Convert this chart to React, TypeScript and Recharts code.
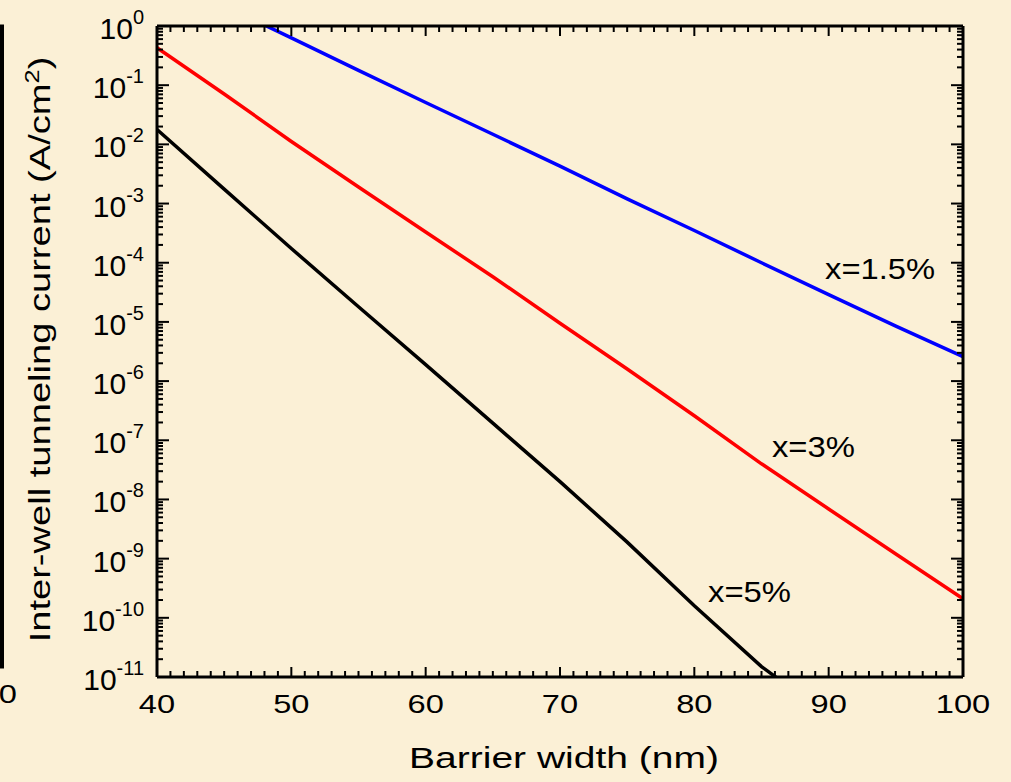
import React from "react";
import { LineChart, Line, XAxis, YAxis, ReferenceDot } from "recharts";

// barrier width (nm)
const widths = [40, 45, 50, 55, 60, 65, 70, 75, 80, 85, 90, 95, 100];
// inter-well tunneling current (A/cm^2)
const currentX15 = [7.4, 2.2, 0.63, 0.178, 0.051, 0.0148, 0.0043, 0.0012, 3.5e-4, 1.0e-4, 2.9e-5, 8.5e-6, 2.6e-6];
const currentX3 = [0.43, 0.071, 0.0112, 1.9e-3, 3.3e-4, 5.8e-5, 9.5e-6, 1.6e-6, 2.6e-7, 4.0e-8, 6.9e-9, 1.2e-9, 2.1e-10];
const currentX5 = [0.0178, 1.75e-3, 1.74e-4, 1.8e-5, 1.9e-6, 1.95e-7, 2.0e-8, 1.9e-9, 1.6e-10, 1.5e-11, 2.2e-12, null, null];

const xMajorTicks = [40, 50, 60, 70, 80, 90, 100];
const decades = [-11, -10, -9, -8, -7, -6, -5, -4, -3, -2, -1];

const xTicks: number[] = [];
for (let v = 40; v <= 100; v++) xTicks.push(v);
const yTicks: number[] = [];
decades.forEach((n) => {
  for (let k = 1; k <= 9; k++) yTicks.push(parseFloat(`${k}e${n}`));
});
yTicks.push(1);

const data = widths.map((w, i) => ({
  w,
  x15: currentX15[i],
  x3: currentX3[i],
  x5: currentX5[i],
}));

const FONT = '"Liberation Sans", Arial, sans-serif';
const BG = "#FBF0D6";

const isDecade = (v: number) => {
  const l = Math.log10(v);
  return Math.abs(l - Math.round(l)) < 1e-6;
};

const BottomTick = ({ x, y, payload }: any) => {
  const major = xMajorTicks.includes(payload.value);
  return (
    <g>
      <line x1={x} x2={x} y1={y} y2={y - (major ? 10 : 6)} stroke="#000" strokeWidth={2} />
      {major && (
        <text
          transform={`translate(${x},${y + 36}) scale(1.28,1)`}
          textAnchor="middle"
          fontSize={25.5}
          fontFamily={FONT}
          fill="#000"
        >
          {payload.value}
        </text>
      )}
    </g>
  );
};

const TopTick = ({ x, y, payload }: any) => {
  const major = xMajorTicks.includes(payload.value);
  return <line x1={x} x2={x} y1={y} y2={y + (major ? 10 : 6)} stroke="#000" strokeWidth={2} />;
};

const LeftTick = ({ x, y, payload }: any) => {
  const major = isDecade(payload.value);
  const exp = Math.round(Math.log10(payload.value));
  return (
    <g>
      <line x1={x} x2={x + (major ? 12 : 6)} y1={y} y2={y} stroke="#000" strokeWidth={2} />
      {major && (
        <text x={x - 13} y={y + 13} textAnchor="end" fontSize={30} fontFamily={FONT} fill="#000">
          <tspan>10</tspan>
          <tspan dy={-15} fontSize={20}>
            {exp}
          </tspan>
        </text>
      )}
    </g>
  );
};

const RightTick = ({ x, y, payload }: any) => {
  const major = isDecade(payload.value);
  return <line x1={x} x2={x - (major ? 12 : 6)} y1={y} y2={y} stroke="#000" strokeWidth={2} />;
};

const XTitle = ({ viewBox }: any) => (
  <text
    transform={`translate(${viewBox.x + viewBox.width / 2 + 4},${viewBox.y + 91}) scale(1.3,1)`}
    textAnchor="middle"
    fontSize={30}
    fontFamily={FONT}
    fill="#000"
  >
    Barrier width (nm)
  </text>
);

const YTitle = ({ viewBox }: any) => (
  <text
    transform={`translate(50,${viewBox.y + viewBox.height / 2 - 2}) rotate(-90) scale(1.27,1)`}
    textAnchor="middle"
    fontSize={30}
    fontFamily={FONT}
    fill="#000"
  >
    <tspan>Inter-well tunneling current (A/cm</tspan>
    <tspan dy={-11} fontSize={20}>2</tspan>
    <tspan dy={11}>)</tspan>
  </text>
);

const seriesLabel = (text: string, len: number) => (p: any) => (
  <text
    x={p.cx}
    y={p.cy}
    fontSize={30}
    fontFamily={FONT}
    fill="#000"
    textLength={len}
    lengthAdjust="spacingAndGlyphs"
  >
    {text}
  </text>
);

export default function App() {
  return (
    <div
      style={{
        position: "absolute",
        left: 0,
        top: 0,
        width: 1011,
        height: 782,
        overflow: "hidden",
        background: BG,
        fontFamily: FONT,
      }}
    >
      <LineChart width={1011} height={782} data={data} margin={{ top: 0, right: 0, bottom: 0, left: 0 }}>
        <XAxis
          xAxisId="b"
          dataKey="w"
          type="number"
          domain={[40, 100]}
          ticks={xTicks}
          interval={0}
          height={105}
          tickSize={0}
          tickMargin={0}
          tickLine={false}
          axisLine={{ stroke: "#000", strokeWidth: 3 }}
          tick={<BottomTick />}
          label={<XTitle />}
        />
        <XAxis
          xAxisId="t"
          orientation="top"
          dataKey="w"
          type="number"
          domain={[40, 100]}
          ticks={xTicks}
          interval={0}
          height={26}
          tickSize={0}
          tickMargin={0}
          tickLine={false}
          axisLine={{ stroke: "#000", strokeWidth: 3 }}
          tick={<TopTick />}
        />
        <YAxis
          yAxisId="l"
          type="number"
          scale="log"
          domain={[1e-11, 1]}
          allowDataOverflow
          ticks={yTicks}
          interval={0}
          width={157}
          tickSize={0}
          tickMargin={0}
          tickLine={false}
          axisLine={{ stroke: "#000", strokeWidth: 3 }}
          tick={<LeftTick />}
          label={<YTitle />}
        />
        <YAxis
          yAxisId="r"
          orientation="right"
          type="number"
          scale="log"
          domain={[1e-11, 1]}
          allowDataOverflow
          ticks={yTicks}
          interval={0}
          width={48}
          tickSize={0}
          tickMargin={0}
          tickLine={false}
          axisLine={{ stroke: "#000", strokeWidth: 3 }}
          tick={<RightTick />}
        />
        <Line xAxisId="b" yAxisId="l" type="linear" dataKey="x15" stroke="#0000FF" strokeWidth={3.5} dot={false} isAnimationActive={false} />
        <Line xAxisId="b" yAxisId="l" type="linear" dataKey="x3" stroke="#FF0000" strokeWidth={3.5} dot={false} isAnimationActive={false} />
        <Line xAxisId="b" yAxisId="l" type="linear" dataKey="x5" stroke="#000000" strokeWidth={3.5} dot={false} isAnimationActive={false} />
        <ReferenceDot xAxisId="b" yAxisId="l" x={89.73} y={5.3e-5} r={0} shape={seriesLabel("x=1.5%", 110)} />
        <ReferenceDot xAxisId="b" yAxisId="l" x={85.78} y={5.2e-8} r={0} shape={seriesLabel("x=3%", 83)} />
        <ReferenceDot xAxisId="b" yAxisId="l" x={81.02} y={1.85e-10} r={0} shape={seriesLabel("x=5%", 83)} />
      </LineChart>
      <svg
        width={1011}
        height={782}
        style={{ position: "absolute", left: 0, top: 0, pointerEvents: "none" }}
      >
        <line x1={2} x2={2} y1={25} y2={668} stroke="#000" strokeWidth={4} />
        <line x1={0} x2={4} y1={26} y2={26} stroke="#000" strokeWidth={3} />
        <line x1={0} x2={4} y1={667} y2={667} stroke="#000" strokeWidth={3} />
        <text
          transform="translate(17,703) scale(1.28,1)"
          textAnchor="end"
          fontSize={25.5}
          fontFamily={FONT}
          fill="#000"
        >
          70
        </text>
      </svg>
    </div>
  );
}
